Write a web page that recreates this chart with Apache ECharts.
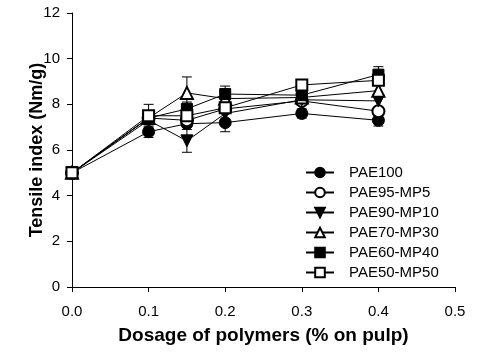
<!DOCTYPE html>
<html>
<head>
<meta charset="utf-8">
<script src="https://cdn.jsdelivr.net/npm/echarts@6/dist/echarts.min.js"></script>
<style>html,body{margin:0;padding:0;background:#fff;}#c{width:477px;height:358px;}</style>
</head>
<body>
<div id="c"></div>
<script>
const dosages = [0, 0.1, 0.15, 0.2, 0.3, 0.4];
const seriesNames = ['PAE100', 'PAE95-MP5', 'PAE90-MP10', 'PAE70-MP30', 'PAE60-MP40', 'PAE50-MP50'];
const pae100 = [5.0, 6.8, 7.15, 7.2, 7.6, 7.3];
const pae95mp5 = [5.0, 7.4, 7.3, 7.8, 8.15, 7.7];
const pae90mp10 = [5.0, 7.3, 6.4, 7.6, 8.2, 8.15];
const pae70mp30 = [5.0, 7.4, 8.5, 8.25, 8.3, 8.6];
const pae60mp40 = [5.0, 7.4, 7.8, 8.45, 8.4, 9.3];
const pae50mp50 = [5.0, 7.5, 7.5, 7.85, 8.85, 9.05];
const err100 = [0, 0.25, 0, 0.4, 0.2, 0.25];
const err95 = [0, 0, 0, 0, 0, 0];
const err90 = [0, 0, 0.5, 0, 0, 0];
const err70 = [0, 0, 0.7, 0, 0, 0];
const err60 = [0, 0, 0.3, 0.35, 0, 0.35];
const err50 = [0, 0.5, 0, 0, 0, 0];
const yTicks = [0, 2, 4, 6, 8, 10, 12];
const xTicks = [0.0, 0.1, 0.2, 0.3, 0.4, 0.5];

const values = [pae100, pae95mp5, pae90mp10, pae70mp30, pae60mp40, pae50mp50];
const errors = [err100, err95, err90, err70, err60, err50];
const symbols = ['circle', 'emptyCircle', 'triangle', 'emptyTriangle', 'rect', 'emptyRect'];
const rotates = [0, 0, 180, 0, 0, 0];
const sizes = [12, 12, 12, 12, 11, 11];
const font = "'Liberation Sans', Arial, sans-serif";

const series = [];
values.forEach((vals, i) => {
  series.push({
    type: 'custom',
    silent: true,
    z: 1,
    data: dosages.map((x, j) => [x, vals[j], errors[i][j]]),
    renderItem: function (params, api) {
      const e = api.value(2);
      if (!e) return null;
      const x = api.value(0), y = api.value(1);
      const top = api.coord([x, y + e]);
      const bot = api.coord([x, y - e]);
      const w = 5;
      const st = { stroke: '#000', lineWidth: 1 };
      return {
        type: 'group',
        children: [
          { type: 'line', shape: { x1: top[0], y1: top[1], x2: bot[0], y2: bot[1] }, style: st },
          { type: 'line', shape: { x1: top[0] - w, y1: top[1], x2: top[0] + w, y2: top[1] }, style: st },
          { type: 'line', shape: { x1: bot[0] - w, y1: bot[1], x2: bot[0] + w, y2: bot[1] }, style: st }
        ]
      };
    }
  });
  series.push({
    name: seriesNames[i],
    type: 'line',
    z: 2 + i,
    data: dosages.map((x, j) => [x, vals[j]]),
    symbol: symbols[i],
    symbolRotate: rotates[i],
    symbolSize: sizes[i],
    showAllSymbol: true,
    lineStyle: { color: '#000', width: 1 },
    itemStyle: { color: '#000', borderColor: '#000', borderWidth: 1 },
    emphasis: { disabled: true },
    animation: false
  });
});

const chart = echarts.init(document.getElementById('c'), null, { renderer: 'canvas' });
chart.setOption({
  animation: false,
  backgroundColor: '#fff',
  grid: { left: 72, right: 22, top: 13, bottom: 71, containLabel: false },
  legend: {
    orient: 'vertical',
    left: 300,
    top: 160,
    itemWidth: 28,
    itemHeight: 12,
    itemGap: 5,
    data: seriesNames,
    textStyle: { fontFamily: font, fontSize: 15, lineHeight: 14, color: '#000', padding: [0, 0, 0, 10] },
    inactiveColor: '#000'
  },
  xAxis: {
    type: 'value',
    min: 0,
    max: 0.5,
    interval: 0.1,
    name: 'Dosage of polymers (% on pulp)',
    nameLocation: 'middle',
    nameGap: 39,
    nameMoveOverlap: false,
    nameTextStyle: { fontFamily: font, fontSize: 19, fontWeight: 'bold', color: '#000' },
    axisLine: { lineStyle: { color: '#000', width: 1 } },
    axisTick: { inside: false, length: 5, lineStyle: { color: '#000' } },
    axisLabel: { fontFamily: font, fontSize: 15, color: '#000', margin: 17, formatter: v => xTicks.includes(Math.round(v * 10) / 10) ? v.toFixed(1) : '' },
    splitLine: { show: false }
  },
  yAxis: {
    type: 'value',
    min: 0,
    max: 12,
    interval: 2,
    name: 'Tensile index (Nm/g)',
    nameLocation: 'middle',
    nameGap: 26,
    nameMoveOverlap: false,
    nameTextStyle: { fontFamily: font, fontSize: 18, fontWeight: 'bold', color: '#000' },
    axisLine: { show: true, lineStyle: { color: '#000', width: 1 } },
    axisTick: { show: true, inside: false, length: 5, lineStyle: { color: '#000' } },
    axisLabel: { fontFamily: font, fontSize: 15, color: '#000', margin: 12, formatter: v => yTicks.includes(v) ? String(v) : '' },
    splitLine: { show: false }
  },
  series: series
});
</script>
</body>
</html>
